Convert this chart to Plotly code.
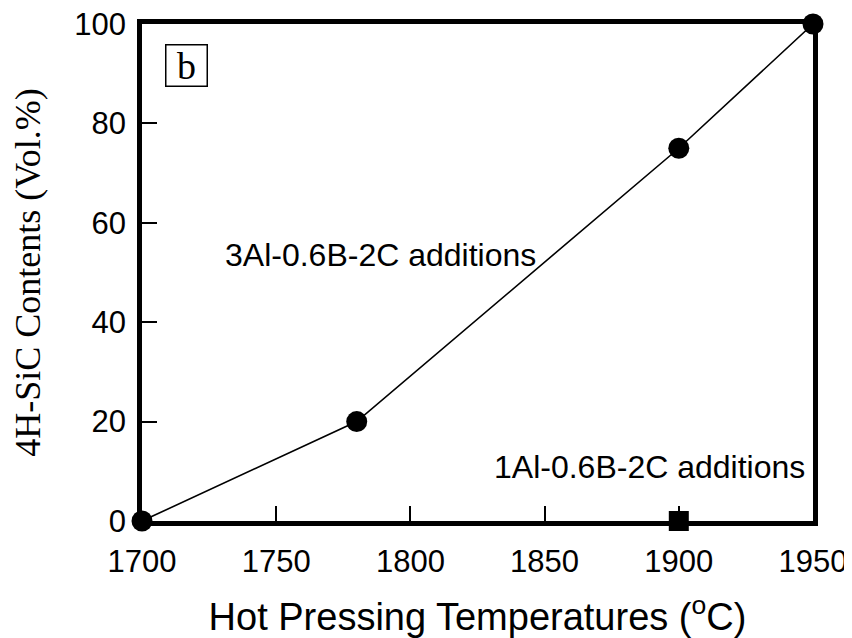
import plotly.graph_objects as go

temps_3al = [1700, 1780, 1900, 1950]
content_3al = [0, 20, 75, 100]
temps_1al = [1900]
content_1al = [0]
x_ticks = [1700, 1750, 1800, 1850, 1900, 1950]
y_ticks = [0, 20, 40, 60, 80, 100]

SANS = "Liberation Sans, Arial, sans-serif"
SERIF = "Liberation Serif, Times New Roman, serif"

fig = go.Figure()
fig.add_trace(go.Scatter(x=temps_3al, y=content_3al, mode="lines+markers",
                         line=dict(color="black", width=1.6),
                         marker=dict(symbol="circle", size=21, color="black"),
                         cliponaxis=False, showlegend=False))
fig.add_trace(go.Scatter(x=temps_1al, y=content_1al, mode="markers",
                         marker=dict(symbol="square", size=20, color="black"),
                         cliponaxis=False, showlegend=False))

fig.add_annotation(x=1789, y=53.5, xref="x", yref="y", text="3Al-0.6B-2C additions",
                   showarrow=False, xanchor="center", yanchor="middle",
                   font=dict(family=SANS, size=32, color="black"))
fig.add_annotation(x=1889, y=10.8, xref="x", yref="y", text="1Al-0.6B-2C additions",
                   showarrow=False, xanchor="center", yanchor="middle",
                   font=dict(family=SANS, size=32, color="black"))
fig.add_annotation(x=0.067, y=0.917, xref="paper", yref="paper", text="b",
                   showarrow=False, xanchor="center", yanchor="middle",
                   font=dict(family=SERIF, size=38, color="black"),
                   bordercolor="black", borderwidth=1.5, borderpad=0, width=40, height=40)

axis_common = dict(showline=True, linecolor="black", linewidth=4.5, mirror=True,
                   ticks="inside", ticklen=15, tickwidth=1.8, tickcolor="black",
                   showgrid=False, zeroline=False, automargin=False,
                   ticklabeloverflow="allow",
                   tickfont=dict(family=SANS, size=31, color="black"))

fig.update_xaxes(range=[1700, 1950], tickvals=x_ticks, ticklabelstandoff=9,
                 title=dict(text="Hot Pressing Temperatures (<sup>o</sup>C)", standoff=27,
                            font=dict(family=SANS, size=38, color="black")),
                 **axis_common)
fig.update_yaxes(range=[0, 100], tickvals=y_ticks, ticklabelstandoff=5,
                 title=dict(text="4H-SiC Contents (Vol.%)", standoff=27,
                            font=dict(family=SERIF, size=36, color="black")),
                 **axis_common)

fig.update_layout(width=852, height=638, plot_bgcolor="white", paper_bgcolor="white",
                  margin=dict(l=134, r=47, t=16, b=125))

fig.write_html("out.html")
